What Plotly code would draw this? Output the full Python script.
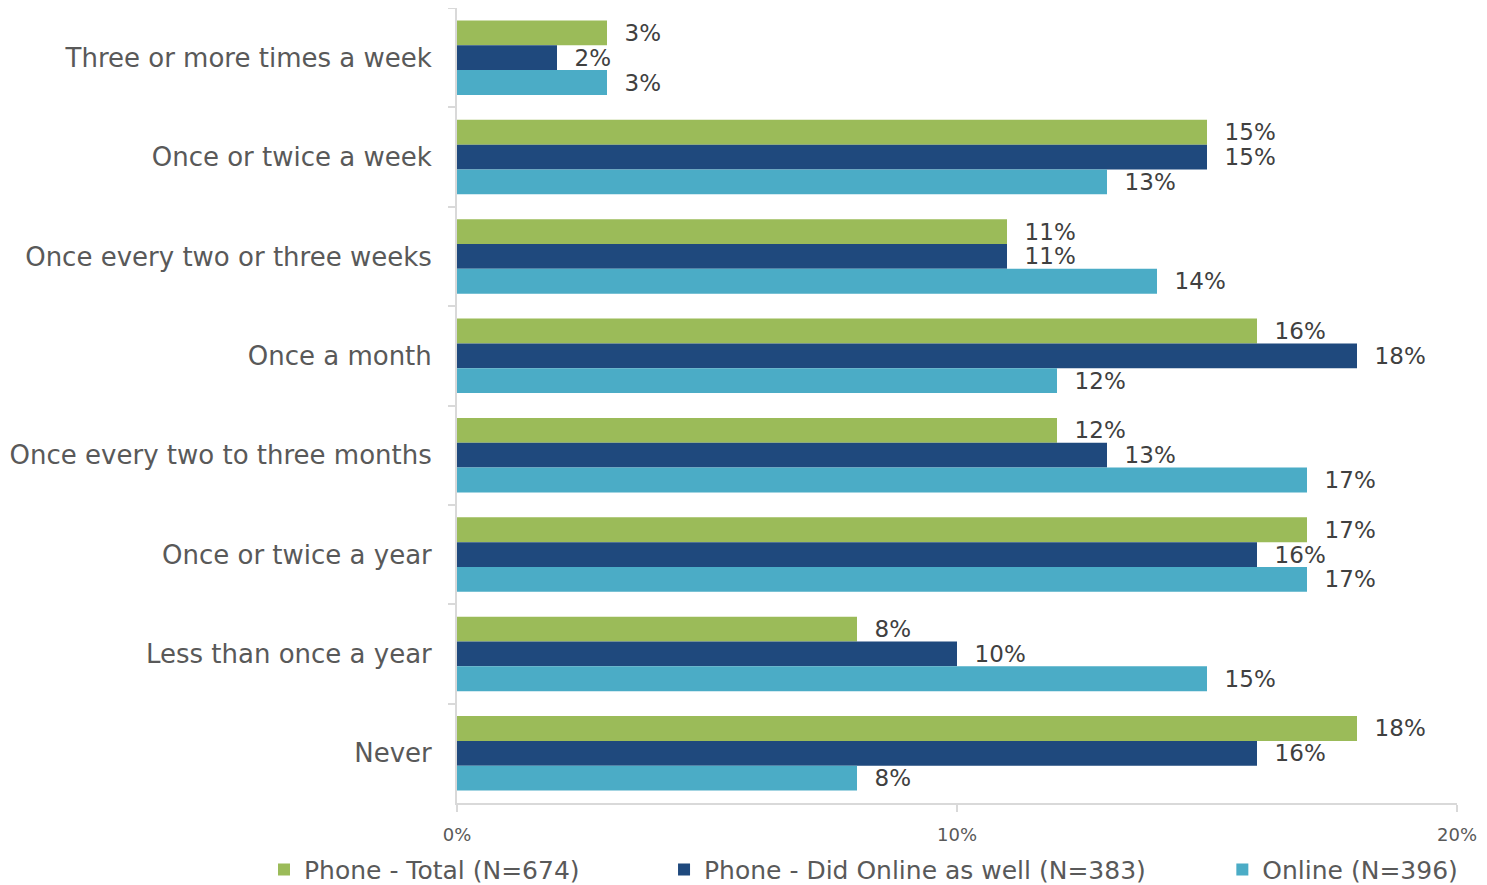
import plotly.graph_objects as go

categories = [
    "Three or more times a week",
    "Once or twice a week",
    "Once every two or three weeks",
    "Once a month",
    "Once every two to three months",
    "Once or twice a year",
    "Less than once a year",
    "Never",
]
phone_total = [3, 15, 11, 16, 12, 17, 8, 18]
phone_online = [2, 15, 11, 18, 13, 16, 10, 16]
online = [3, 13, 14, 12, 17, 17, 15, 8]

series_names = ["Phone - Total (N=674)", "Phone - Did Online as well (N=383)", "Online (N=396)"]
series_values = [phone_total, phone_online, online]
colors = ["#9BBB59", "#1F497D", "#4BACC6"]

FONT = "DejaVu Sans"
TXT = "#595959"
NB = "\u00a0"
legend_pad = [10, 9, 0]

fig = go.Figure()
for name, vals, col, pad in zip(series_names, series_values, colors, legend_pad):
    fig.add_trace(go.Bar(
        y=categories, x=vals, name=name + NB * pad, orientation="h",
        marker=dict(color=col, line=dict(width=0)),
        text=[NB * 2 + f"{v}%" for v in vals], texttemplate="%{text}",
        textposition="outside",
        textfont=dict(family=FONT, size=23, color="#404040"),
        constraintext="none", cliponaxis=False,
    ))

# page body has an 8px margin, so the figure is sized to fit the window
fig.update_layout(
    width=1479, height=877,
    barmode="group", bargap=0.25, bargroupgap=0,
    plot_bgcolor="white", paper_bgcolor="white",
    margin=dict(l=449, r=30, t=0, b=82, autoexpand=False),
    font=dict(family=FONT, color=TXT),
    legend=dict(orientation="h", x=-0.193, xanchor="left",
                y=-0.055, yanchor="top",
                font=dict(family=FONT, size=25, color=TXT), itemwidth=30,
                traceorder="normal"),
    showlegend=True,
)
fig.update_xaxes(range=[0, 20], dtick=10, ticksuffix="%", showgrid=False, zeroline=False,
                 showline=True, linecolor="#D9D9D9", linewidth=2,
                 ticks="outside", ticklen=7, tickcolor="#D9D9D9", tickwidth=2,
                 ticklabelstandoff=7, automargin=False,
                 tickfont=dict(family=FONT, size=18, color=TXT))
fig.update_yaxes(autorange="reversed", showgrid=False, showline=True, linecolor="#D9D9D9",
                 linewidth=2, ticks="outside", tickson="boundaries", ticklen=7,
                 tickcolor="#D9D9D9", tickwidth=2, ticklabelstandoff=18, automargin=False,
                 tickfont=dict(family=FONT, size=26, color=TXT))

fig.write_html("out.html")
